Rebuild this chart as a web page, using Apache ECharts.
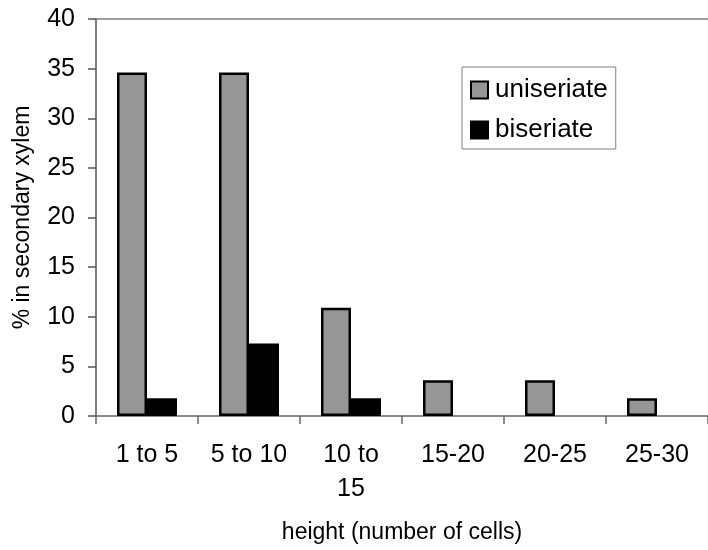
<!DOCTYPE html>
<html>
<head>
<meta charset="utf-8">
<script src="https://cdn.jsdelivr.net/npm/echarts@6/dist/echarts.min.js"></script>
<style>html,body{margin:0;padding:0;background:#fff;}#c{width:708px;height:550px;}</style>
</head>
<body>
<div id="c"></div>
<script>
var categories = ['1 to 5', '5 to 10', '10 to\n15', '15-20', '20-25', '25-30'];
var uniseriate = [34.6, 34.6, 10.9, 3.6, 3.6, 1.8];
var biseriate = [1.8, 7.3, 1.8, 0, 0, 0];
var seriesNames = ['uniseriate', 'biseriate'];

var FONT = '"Liberation Sans", Arial, sans-serif';
function noZero(arr){ return arr.map(function(v){ return v === 0 ? '-' : v; }); }

var chart = echarts.init(document.getElementById('c'), null, {renderer: 'canvas'});
chart.setOption({
  animation: false,
  backgroundColor: '#ffffff',
  textStyle: {fontFamily: FONT, color: '#000'},
  grid: {left: 96, right: 0, top: 19, bottom: 134, containLabel: false},
  legend: {
    orient: 'vertical',
    left: 462, top: 67,
    padding: [10, 8, 6, 8],
    borderColor: '#808080', borderWidth: 1,
    backgroundColor: '#fff',
    itemWidth: 17, itemHeight: 17, itemGap: 14,
    icon: 'rect',
    textStyle: {fontFamily: FONT, fontSize: 26, color: '#000', lineHeight: 25, padding: [0, 0, 0, 2]},
    data: seriesNames
  },
  xAxis: [{
    type: 'category',
    data: categories,
    name: 'height (number of cells)',
    nameLocation: 'middle',
    nameGap: 105,
    nameTextStyle: {fontFamily: FONT, fontSize: 23, color: '#000'},
    axisLine: {show: true, lineStyle: {color: '#666', width: 1.5}},
    axisTick: {show: true, length: 8, alignWithLabel: false, lineStyle: {color: '#666', width: 1.5}},
    axisLabel: {fontFamily: FONT, fontSize: 25, color: '#000', margin: 22, lineHeight: 34, interval: 0},
    splitLine: {show: false}
  }, {
    type: 'category',
    data: categories,
    position: 'top',
    axisLine: {show: true, lineStyle: {color: '#808080', width: 1.5}},
    axisTick: {show: false},
    axisLabel: {show: false},
    splitLine: {show: false}
  }],
  yAxis: {
    type: 'value',
    min: 0, max: 40, interval: 5,
    name: '% in secondary xylem',
    nameLocation: 'middle',
    nameGap: 62,
    nameTextStyle: {fontFamily: FONT, fontSize: 23, color: '#000'},
    axisLine: {show: true, lineStyle: {color: '#555', width: 1.5}},
    axisTick: {show: true, length: 8, lineStyle: {color: '#555', width: 1.5}},
    axisLabel: {fontFamily: FONT, fontSize: 25, color: '#000', margin: 21},
    splitLine: {show: false}
  },
  series: [{
    name: seriesNames[0],
    type: 'bar',
    data: noZero(uniseriate),
    barWidth: 30,
    barGap: '0%',
    itemStyle: {color: '#969696', borderColor: '#000', borderWidth: 2.5}
  }, {
    name: seriesNames[1],
    type: 'bar',
    data: noZero(biseriate),
    barWidth: 30,
    barGap: '0%',
    itemStyle: {color: '#000', borderColor: '#000', borderWidth: 2.5}
  }]
});
</script>
</body>
</html>
